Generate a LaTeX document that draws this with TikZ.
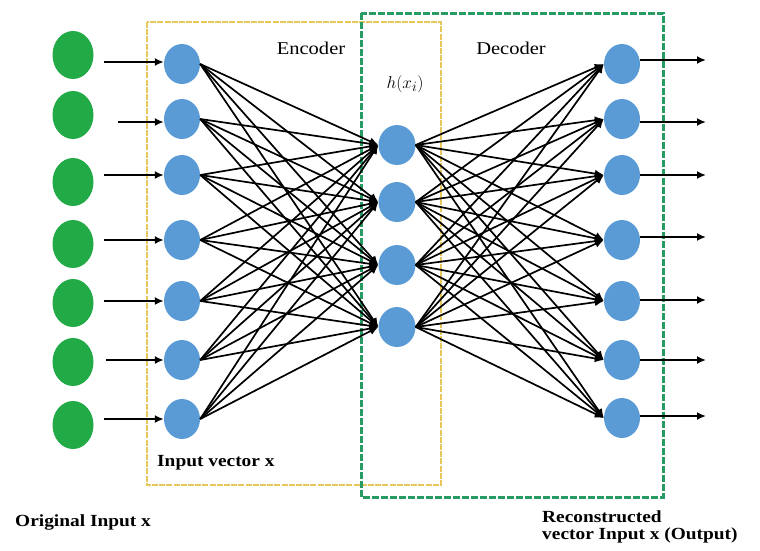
\documentclass[tikz,border=0pt]{standalone}
\usepackage{fontspec}
\setmainfont{Liberation Serif}
\newfontfamily\lblfont[FakeStretch=1.14]{Liberation Serif}
\usetikzlibrary{arrows.meta,shapes.geometric}
\definecolor{ngreen}{RGB}{34,170,70}
\definecolor{nblue}{RGB}{91,155,213}
\definecolor{bxyellow}{RGB}{230,200,90}
\definecolor{bxgreen}{RGB}{40,155,100}
\tikzset{
  gnode/.style={ellipse, fill=ngreen, minimum width=41pt, minimum height=48pt, inner sep=0pt},
  bnode/.style={ellipse, fill=nblue, minimum width=36pt, minimum height=40pt, inner sep=0pt},
  hnode/.style={ellipse, fill=nblue, minimum width=37pt, minimum height=40pt, inner sep=0pt},
  link/.style={line width=1.7pt, -{Latex[length=9pt,width=8pt]}},
  inarrow/.style={line width=1.8pt, -{Latex[length=9pt,width=8pt]}},
  lbl/.style={font=\lblfont\bfseries\fontsize{17}{20}\selectfont, anchor=west, inner sep=0pt},
  title/.style={font=\lblfont\fontsize{18}{20}\selectfont, inner sep=0pt},
}
\begin{document}
\begin{tikzpicture}[x=1pt,y=-1pt]
\useasboundingbox (0,0) rectangle (760,550);
% boxes
\draw[bxyellow, line width=1.8pt, dash pattern=on 6pt off 1.2pt] (147,22) rectangle (441,485);
\draw[bxgreen, line width=3pt, dash pattern=on 7pt off 2pt] (361,13) rectangle (663,497);
% green input nodes
\foreach \i/\y in {1/55,2/115,3/182,4/244,5/303,6/362,7/425}
  \node[gnode] (g\i) at (73,\y) {};
% blue input nodes
\foreach \i/\y in {1/64,2/119,3/175,4/240,5/301,6/360,7/419}
  \node[bnode] (b\i) at (182,\y) {};
% hidden nodes
\foreach \i/\y in {1/145,2/202,3/265,4/327}
  \node[hnode] (h\i) at (397,\y) {};
% output nodes
\foreach \i/\y in {1/64,2/119,3/175,4/240,5/301,6/360,7/418}
  \node[bnode] (o\i) at (622,\y) {};
% free ends
\foreach \i/\y/\x in {1/62/104,2/122/118,3/175/104,4/240/104,5/301/104,6/360/106,7/419/104}
  \coordinate (s\i) at (\x,\y);
\foreach \i/\y in {1/60,2/122,3/175,4/237,5/300,6/360,7/416}
  \coordinate (e\i) at (706,\y);
% input arrows
\foreach \i in {1,...,7}
  \draw[inarrow] (s\i) -- (b\i.west |- s\i);
% encoder links
\foreach \i in {1,...,7}
  \foreach \j in {1,...,4}
    \draw[link] (b\i.east) -- (h\j.west);
% decoder links
\foreach \j in {1,...,4}
  \foreach \i in {1,...,7}
    \draw[link] (h\j.east) -- (o\i.west);
% output arrows
\foreach \i in {1,...,7}
  \draw[inarrow] (o\i.east |- e\i) -- (e\i);
% labels
\node[title] (enc) at (311,48) {Encoder};
\node[title] (dec) at (511,48) {Decoder};
\node[inner sep=0pt, font=\fontsize{19}{21}\selectfont] (hx) at (405,84) {$h(x_i)$};
\node[lbl] (ivx) at (157,463) {Input vector x};
\node[lbl] (oix) at (15,522) {Original Input x};
\node[lbl] (rec1) at (542,517) {Reconstructed};
\node[lbl] (rec2) at (542,535) {vector Input x (Output)};
\end{tikzpicture}
\end{document}
